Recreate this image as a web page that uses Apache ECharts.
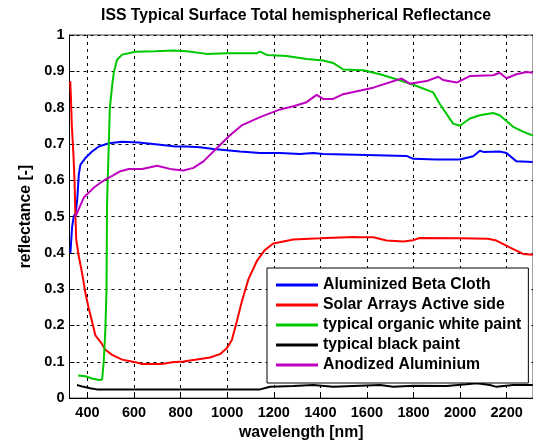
<!DOCTYPE html>
<html>
<head>
<meta charset="utf-8">
<script src="https://cdn.jsdelivr.net/npm/echarts@6/dist/echarts.min.js"></script>
<style>
  html, body { margin: 0; padding: 0; background: #fff; }
  #main { width: 533px; height: 446px; }
</style>
</head>
<body>
<div id="main"></div>
<script>
// wavelength [nm], reflectance [-]
const betaCloth = [
  [327, 0.40], [334, 0.47], [341, 0.50], [349, 0.508], [356, 0.545], [363, 0.616],
  [370, 0.643], [391, 0.661], [420, 0.679], [449, 0.693], [492, 0.702], [549, 0.706],
  [620, 0.704], [692, 0.699], [778, 0.693], [826, 0.693], [883, 0.691], [941, 0.686],
  [1055, 0.679], [1141, 0.675], [1227, 0.675], [1312, 0.672], [1369, 0.675], [1412, 0.672],
  [1555, 0.670], [1770, 0.667], [1799, 0.659], [1899, 0.657], [1999, 0.657], [2056, 0.666],
  [2085, 0.681], [2100, 0.678], [2170, 0.679], [2199, 0.675], [2242, 0.652], [2312, 0.650]
];
const solarArray = [
  [326, 0.873], [329, 0.83], [333, 0.75], [340, 0.67], [345, 0.59], [348, 0.51],
  [352, 0.436], [363, 0.39], [377, 0.345], [391, 0.29], [406, 0.246], [420, 0.21],
  [434, 0.173], [456, 0.155], [477, 0.133], [506, 0.119], [549, 0.106], [606, 0.099],
  [635, 0.094], [720, 0.094], [763, 0.099], [812, 0.101], [869, 0.106], [926, 0.112],
  [969, 0.121], [998, 0.137], [1020, 0.160], [1041, 0.21], [1062, 0.264], [1091, 0.327],
  [1127, 0.377], [1162, 0.408], [1198, 0.426], [1284, 0.437], [1398, 0.440], [1541, 0.444],
  [1570, 0.443], [1627, 0.443], [1684, 0.434], [1756, 0.431], [1799, 0.435], [1827, 0.441],
  [1999, 0.440], [2120, 0.439], [2156, 0.434], [2213, 0.415], [2270, 0.397], [2312, 0.395]
];
const whitePaint = [
  [360, 0.062], [391, 0.060], [420, 0.054], [449, 0.050], [463, 0.051], [470, 0.101],
  [477, 0.19], [482, 0.30], [484, 0.526], [487, 0.60], [492, 0.706], [496, 0.797],
  [506, 0.86], [513, 0.896], [527, 0.932], [549, 0.946], [606, 0.954], [692, 0.955],
  [769, 0.957], [826, 0.955], [912, 0.948], [998, 0.950], [1127, 0.950], [1141, 0.954],
  [1170, 0.945], [1255, 0.942], [1341, 0.934], [1412, 0.930], [1455, 0.923], [1498, 0.905],
  [1584, 0.903], [1656, 0.892], [1727, 0.878], [1799, 0.863], [1884, 0.842], [1913, 0.81],
  [1970, 0.756], [1999, 0.750], [2042, 0.770], [2085, 0.779], [2142, 0.785], [2170, 0.779],
  [2228, 0.747], [2270, 0.734], [2312, 0.723]
];
const blackPaint = [
  [355, 0.036], [383, 0.031], [412, 0.027], [440, 0.024], [569, 0.024], [855, 0.024],
  [1141, 0.024], [1184, 0.031], [1284, 0.033], [1369, 0.036], [1455, 0.031], [1570, 0.034],
  [1656, 0.036], [1713, 0.031], [1799, 0.034], [1942, 0.033], [2028, 0.038], [2071, 0.041],
  [2128, 0.036], [2156, 0.031], [2228, 0.036], [2312, 0.036]
];
const anodizedAl = [
  [349, 0.50], [356, 0.504], [363, 0.521], [385, 0.553], [406, 0.566], [428, 0.580],
  [456, 0.593], [477, 0.602], [506, 0.612], [542, 0.625], [578, 0.631], [635, 0.631],
  [699, 0.640], [763, 0.630], [812, 0.627], [855, 0.634], [898, 0.652], [955, 0.688],
  [1012, 0.724], [1062, 0.751], [1141, 0.774], [1227, 0.795], [1284, 0.804], [1341, 0.815],
  [1384, 0.835], [1412, 0.824], [1455, 0.824], [1498, 0.837], [1627, 0.855], [1749, 0.880],
  [1784, 0.866], [1856, 0.873], [1906, 0.885], [1927, 0.876], [1985, 0.869], [2042, 0.887],
  [2142, 0.889], [2170, 0.896], [2199, 0.881], [2242, 0.892], [2285, 0.898], [2312, 0.896]
];

const xTicks = [400, 600, 800, 1000, 1200, 1400, 1600, 1800, 2000, 2200];
const seriesNames = [
  'Aluminized Beta Cloth',
  'Solar Arrays Active side',
  'typical organic white paint',
  'typical black paint',
  'Anodized Aluminium'
];
const seriesData = [betaCloth, solarArray, whitePaint, blackPaint, anodizedAl];
const colors = ['#0000ff', '#ff0000', '#00c800', '#000000', '#bf00bf'];

const font = 'Liberation Sans, Arial, sans-serif';
const dashed = { show: true, lineStyle: { color: '#000', width: 1, type: [3, 4] } };
const nameStyle = { fontFamily: font, fontSize: 15.8, fontWeight: 'bold', color: '#000' };
const tickStyle = { fontFamily: font, fontSize: 14.5, fontWeight: 'bold', color: '#000' };

const chart = echarts.init(document.getElementById('main'));
chart.setOption({
  animation: false,
  backgroundColor: '#fff',
  title: {
    text: 'ISS Typical Surface Total hemispherical Reflectance',
    left: 101, top: 8, padding: 0,
    textStyle: nameStyle
  },
  grid: {
    left: 69.5, right: 0, top: 35, bottom: 42,
    show: true, borderColor: '#444', borderWidth: 1
  },
  legend: {
    orient: 'vertical',
    left: 267, top: 268,
    padding: [9, 7, 10, 9],
    backgroundColor: '#fff',
    borderColor: '#000', borderWidth: 1,
    itemWidth: 42, itemHeight: 3, itemGap: 4,
    icon: 'rect',
    textStyle: Object.assign({ lineHeight: 16 }, nameStyle),
    data: seriesNames
  },
  xAxis: {
    type: 'value',
    min: 323, max: 2313,
    name: 'wavelength [nm]',
    nameLocation: 'middle', nameGap: 26,
    nameTextStyle: nameStyle,
    axisLine: { lineStyle: { color: '#000', width: 1 } },
    axisTick: { inside: true, length: 5, customValues: xTicks, lineStyle: { color: '#000' } },
    axisLabel: Object.assign({
      customValues: xTicks, margin: 7,
      formatter: v => String(v)
    }, tickStyle),
    splitLine: dashed
  },
  yAxis: {
    type: 'value',
    min: 0, max: 1, interval: 0.1,
    name: 'reflectance [-]',
    nameLocation: 'middle', nameGap: 35,
    nameTextStyle: nameStyle,
    axisLine: { show: true, lineStyle: { color: '#000', width: 1 } },
    axisTick: { show: true, inside: true, length: 5, lineStyle: { color: '#000' } },
    axisLabel: Object.assign({
      margin: 5,
      formatter: v => (v === 0 || v === 1) ? String(v) : v.toFixed(1)
    }, tickStyle),
    splitLine: dashed
  },
  series: seriesNames.map((name, i) => ({
    name: name,
    type: 'line',
    data: seriesData[i],
    showSymbol: false,
    clip: true,
    color: colors[i],
    lineStyle: { color: colors[i], width: 2 }
  }))
});
</script>
</body>
</html>
